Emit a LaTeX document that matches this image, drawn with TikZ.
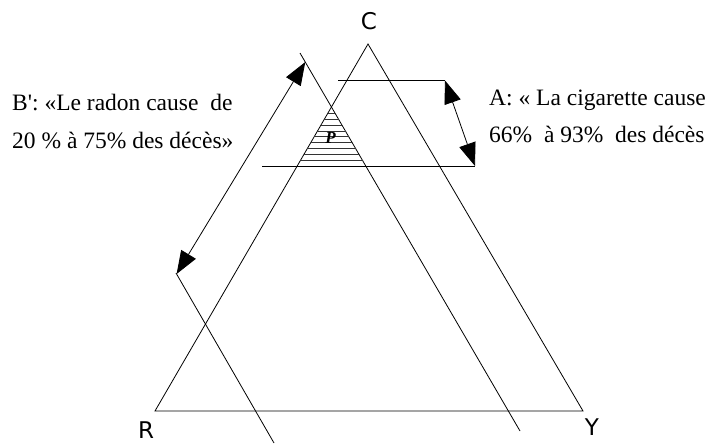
\documentclass[tikz,border=0pt]{standalone}
\usepackage{fontspec}
\setmainfont{Liberation Serif}
\newfontfamily\vtxfont{DejaVu Sans}
\usetikzlibrary{arrows.meta}

\begin{document}
\begin{tikzpicture}[x=1pt, y=-1pt,
  edge/.style={line width=0.8pt},
  hatch/.style={black!80, line width=0.7pt},
  dim/.style={line width=0.8pt,
    {Triangle[length=23pt,width=17pt]}-{Triangle[length=23pt,width=17pt]}},
  vtx/.style={font=\vtxfont\fontsize{23}{27}\selectfont, inner sep=0pt},
  claim/.style={font=\fontsize{23.5}{37.5}\selectfont, align=left,
    anchor=base west, inner sep=0pt}]
\useasboundingbox (0,0) rectangle (714,444);

% triangle C R Y
\coordinate (C) at (368,44);
\coordinate (R) at (155,411);
\coordinate (Y) at (583,411);
\draw[edge] (C) -- (R) -- (Y) -- cycle;
\node[vtx] (lC) at (369,21) {C};
\node[vtx] (lR) at (146,430) {R};
\node[vtx] (lY) at (592,427) {Y};

% band B' (parallel to CY)
\coordinate (B1a) at (300,53);
\coordinate (B1b) at (520,431);
\coordinate (B2a) at (176,273);
\coordinate (B2b) at (274,443);
\draw[edge] (B1a) -- (B1b);
\draw[edge] (B2a) -- (B2b);
\coordinate (Bt) at (305.3,62);
\coordinate (Bb) at (176.6,274);
\draw[dim] (Bt) -- (Bb);

% band A (horizontal)
\coordinate (A1a) at (338,80.5);
\coordinate (A1b) at (445,80.5);
\coordinate (A2a) at (262,166);
\coordinate (A2b) at (475,166);
\draw[edge] (A1a) -- (A1b);
\draw[edge] (A2a) -- (A2b);
\draw[dim] (A1b) -- (A2b);

% hatched region P
\coordinate (Pt) at (331.5,107);
\coordinate (Pl) at (297.2,166);
\coordinate (Pr) at (366.2,166);
\begin{scope}
  \clip (Pt) -- (Pl) -- (Pr) -- cycle;
  \foreach \k in {1,...,9}
    \draw[hatch] (290,{166-5.85*\k}) -- (375,{166-5.85*\k});
\end{scope}
\node[font=\bfseries\itshape\fontsize{17}{20}\selectfont, inner sep=0pt]
  (P) at (330.5,138) {P};

% statements (anchored on the last line)
\node[claim] (qA) at (489,142.5)
  {A: « La cigarette cause\\ 66\%\ \ à 93\%\ \ des décès};
\node[claim] (qB) at (12,148)
  {B\textquotesingle: «Le radon cause\ \ de\\ 20 \% à 75\% des décès»};
\end{tikzpicture}
\end{document}
